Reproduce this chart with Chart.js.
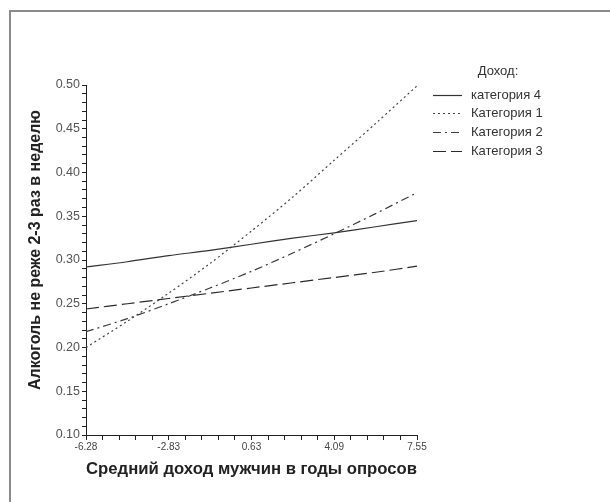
<!DOCTYPE html>
<html>
<head>
<meta charset="utf-8">
<script src="https://cdn.jsdelivr.net/npm/chart.js@4.4.1/dist/chart.umd.min.js"></script>
<style>
  html, body { margin: 0; padding: 0; background: #fff; }
  #wrap { width: 610px; height: 502px; position: relative; }
</style>
</head>
<body>
<div id="wrap"><canvas id="grafico" width="610" height="502"></canvas></div>
<script>
// Значения по оси X (средний доход)
const xValues = [-6.28, -4.55, -2.83, -1.10, 0.63, 2.36, 4.09, 5.82, 7.55];
const xTickLabels = ['-6.28', '-2.83', '0.63', '4.09', '7.55'];

// Доли по категориям дохода
const kat4 = [0.292, 0.298, 0.305, 0.311, 0.318, 0.325, 0.331, 0.338, 0.345];
const kat1 = [0.200, 0.230, 0.262, 0.296, 0.333, 0.372, 0.414, 0.456, 0.499];
const kat2 = [0.218, 0.233, 0.250, 0.268, 0.287, 0.308, 0.330, 0.353, 0.377];
const kat3 = [0.244, 0.250, 0.256, 0.262, 0.268, 0.274, 0.280, 0.286, 0.293];

const seriesNames = ['категория 4', 'Категория 1', 'Категория 2', 'Категория 3'];
const yTicks = [0.10, 0.15, 0.20, 0.25, 0.30, 0.35, 0.40, 0.45, 0.50];

const FONT = "'Liberation Sans', Arial, sans-serif";

function toPoints(arr) {
    return arr.map((v, i) => ({ x: xValues[i], y: v }));
}

// Рамка, заголовок оси Y и легенда рисуются вручную
const ramkaPlugin = {
    id: 'ramka',
    afterDraw(chart) {
        const ctx = chart.ctx;
        ctx.save();
        ctx.strokeStyle = '#8a8a8a';
        ctx.lineWidth = 2;
        ctx.beginPath();
        ctx.moveTo(10, 502);
        ctx.lineTo(10, 11);
        ctx.lineTo(610, 11);
        ctx.stroke();

        // заголовок оси Y
        ctx.fillStyle = '#222';
        ctx.font = 'bold 16px ' + FONT;
        ctx.textAlign = 'center';
        ctx.textBaseline = 'middle';
        ctx.translate(36, 250);
        ctx.rotate(-Math.PI / 2);
        ctx.fillText('Алкоголь не реже 2-3 раз в неделю', 0, 0);
        ctx.restore();

        // легенда
        ctx.save();
        ctx.font = '13px ' + FONT;
        ctx.fillStyle = '#333';
        ctx.textAlign = 'center';
        ctx.textBaseline = 'middle';
        ctx.fillText('Доход:', 498, 71);
        ctx.textAlign = 'left';
        const rows = [95, 113, 132, 151];
        chart.data.datasets.forEach((ds, i) => {
            ctx.save();
            ctx.strokeStyle = ds.borderColor;
            ctx.lineWidth = 1.2;
            ctx.setLineDash(ds.borderDash || []);
            ctx.beginPath();
            ctx.moveTo(433, rows[i] + 0.5);
            ctx.lineTo(462, rows[i] + 0.5);
            ctx.stroke();
            ctx.restore();
            ctx.fillText(ds.label, 471, rows[i]);
        });
        ctx.restore();
    }
};

function crearGrafico() {
    const ctx = document.getElementById('grafico').getContext('2d');
    new Chart(ctx, {
        type: 'line',
        data: {
            datasets: [
                { label: seriesNames[0], data: toPoints(kat4), borderColor: '#333', borderDash: [] },
                { label: seriesNames[1], data: toPoints(kat1), borderColor: '#444', borderDash: [2, 3] },
                { label: seriesNames[2], data: toPoints(kat2), borderColor: '#3a3a3a', borderDash: [8, 4, 2, 4] },
                { label: seriesNames[3], data: toPoints(kat3), borderColor: '#2a2a2a', borderDash: [13, 5] }
            ].map(ds => Object.assign(ds, {
                borderWidth: 1.2,
                pointRadius: 0,
                tension: 0.3,
                fill: false
            }))
        },
        options: {
            responsive: false,
            animation: false,
            layout: { padding: { left: 0, top: 85, right: 193, bottom: 0 } },
            plugins: {
                legend: { display: false },
                tooltip: { enabled: false }
            },
            scales: {
                x: {
                    type: 'linear',
                    min: -6.28,
                    max: 7.55,
                    afterBuildTicks(scale) {
                        const t = [];
                        for (let i = 0; i <= 20; i++) t.push({ value: -6.28 + i * 13.83 / 20 });
                        scale.ticks = t;
                    },
                    afterFit(scale) { scale.height = 67; },
                    border: { display: true, color: '#222', width: 1 },
                    grid: { drawOnChartArea: false, drawTicks: true, tickLength: 5, color: '#222' },
                    ticks: {
                        autoSkip: false,
                        maxRotation: 0,
                        padding: 1,
                        color: '#444',
                        font: { family: FONT, size: 10 },
                        callback: (v, i) => (i % 5 === 0 ? xTickLabels[i / 5] : '')
                    },
                    title: {
                        display: true,
                        text: 'Средний доход мужчин в годы опросов',
                        color: '#222',
                        font: { family: FONT, size: 17, weight: 'bold' },
                        padding: { top: 9, bottom: 22 }
                    }
                },
                y: {
                    min: 0.10,
                    max: 0.50,
                    afterBuildTicks(scale) {
                        const t = [];
                        for (let i = 0; i <= 40; i++) t.push({ value: 0.10 + i * 0.01 });
                        scale.ticks = t;
                    },
                    afterFit(scale) { scale.width = 86; },
                    border: { display: true, color: '#222', width: 1 },
                    grid: { drawOnChartArea: false, drawTicks: true, tickLength: 4, color: '#222' },
                    ticks: {
                        autoSkip: false,
                        padding: 2,
                        color: '#555',
                        font: { family: FONT, size: 12.5 },
                        callback: (v, i) => (i % 5 === 0 ? yTicks[i / 5].toFixed(2) : '')
                    }
                }
            }
        },
        plugins: [ramkaPlugin]
    });
}

document.addEventListener('DOMContentLoaded', () => {
    crearGrafico();
});
</script>
</body>
</html>
